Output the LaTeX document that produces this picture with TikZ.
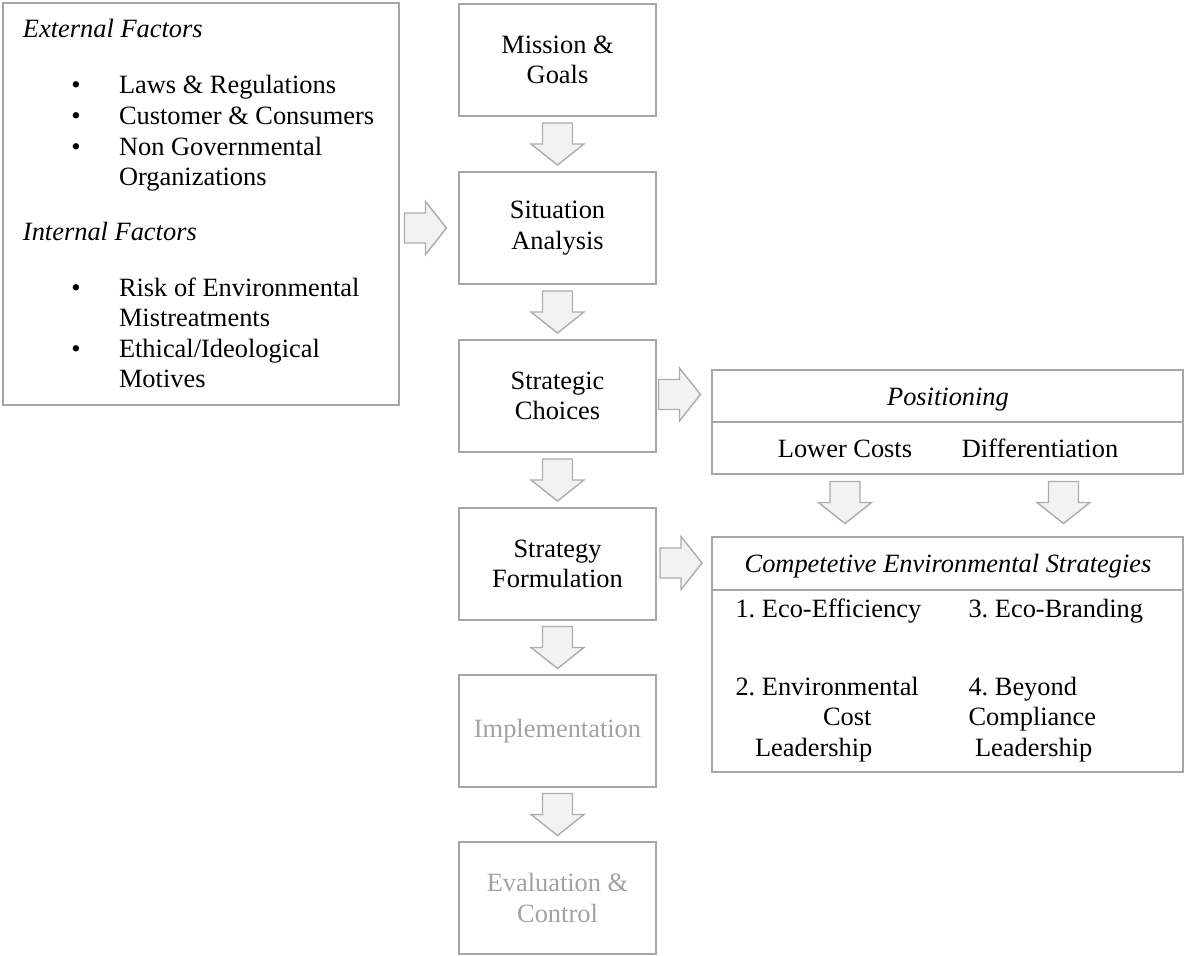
\documentclass[tikz,border=0pt]{standalone}
\usepackage{fontspec}
\setmainfont{Liberation Serif}
\usetikzlibrary{calc}

\definecolor{framegray}{RGB}{166,166,166}
\definecolor{arrowfill}{RGB}{242,242,242}
\definecolor{arrowline}{RGB}{172,172,172}
\definecolor{dimtext}{RGB}{162,162,162}

\begin{document}
\frenchspacing
\begin{tikzpicture}[x=1pt, y=-1pt,
  every node/.style={font=\fontsize{26.4}{30.5}\selectfont, inner sep=0pt, outer sep=0pt},
  frame/.style={draw=framegray, line width=1.7pt, rectangle},
  stage/.style={frame, minimum width=197pt, minimum height=112pt, align=center},
  dimstage/.style={stage, text=dimtext},
  label/.style={anchor=base west},
  clabel/.style={anchor=base},
  blockarrow/.style={draw=arrowline, fill=arrowfill, line width=1.4pt, line join=miter},
  dnarrow/.pic={\path[blockarrow] (-15,-21) -- (15,-21) -- (15,0) -- (26.5,0)
      -- (0,21) -- (-26.5,0) -- (-15,0) -- cycle;},
  rtarrow/.pic={\path[blockarrow] (-21,-15) -- (0,-15) -- (0,-26.5) -- (21,0)
      -- (0,26.5) -- (0,15) -- (-21,15) -- cycle;}
]
\useasboundingbox (0,0) rectangle (1184,956);

% --- factors box -------------------------------------------------------
\node[frame, minimum width=396pt, minimum height=402pt] (factors) at (201,204) {};
\node[label] (exthead) at (23,37) {\itshape External Factors};
\node[clabel] (b1) at (76,93) {•};
\node[label] (e1) at (119,93) {Laws \& Regulations};
\node[clabel] (b2) at (76,124) {•};
\node[label] (e2) at (119,124) {Customer \& Consumers};
\node[clabel] (b3) at (76,155) {•};
\node[label] (e3) at (119,155) {Non Governmental};
\node[label] (e3b) at (119,185.5) {Organizations};
\node[label] (inthead) at (23,240) {\itshape Internal Factors};
\node[clabel] (b4) at (76,296) {•};
\node[label] (i1) at (119,296) {Risk of Environmental};
\node[label] (i1b) at (119,326.5) {Mistreatments};
\node[clabel] (b5) at (76,357) {•};
\node[label] (i2) at (119,357) {Ethical/Ideological};
\node[label] (i2b) at (119,387.5) {Motives};

% --- process column ----------------------------------------------------
\node[stage] (mission)     at (557.5,60)  {Mission \&\\Goals};
\node[stage] (situation)   at (557.5,228) {Situation\\Analysis};
\node[stage] (strategic)   at (557.5,396) {Strategic\\Choices};
\node[stage] (formulation) at (557.5,564) {Strategy\\Formulation};
\node[dimstage] (implement) at (557.5,731) {Implementation};
\node[dimstage] (evaluation) at (557.5,898) {Evaluation \&\\Control};

\pic at ($(mission.south)!0.5!(situation.north)$) {dnarrow};
\pic at ($(situation.south)!0.5!(strategic.north)$) {dnarrow};
\pic at ($(strategic.south)!0.5!(formulation.north)$) {dnarrow};
\pic at ($(formulation.south)!0.5!(implement.north)$) {dnarrow};
\pic at ($(implement.south)!0.5!(evaluation.north)$) {dnarrow};

\pic at ($(situation.west)+(-33.5,0)$) {rtarrow};

% --- positioning -------------------------------------------------------
\node[frame, minimum width=471pt, minimum height=52pt] (poshead) at (947.5,396) {};
\node[frame, minimum width=471pt, minimum height=52pt] (posbody) at (947.5,448) {};
\node[clabel] (postitle) at (948,405) {\itshape Positioning};
\node[clabel] (lower) at (845,457) {Lower Costs};
\node[clabel] (diff) at (1040,457) {Differentiation};

\pic at ($(strategic.east)+(23.5,-1.5)$) {rtarrow};

\pic at ($(posbody.south)+(-102.5,28.5)$) {dnarrow};
\pic at ($(posbody.south)+(116,28.5)$) {dnarrow};

% --- competitive environmental strategies ------------------------------
\node[frame, minimum width=471pt, minimum height=53pt] (cesthead) at (947.5,563.5) {};
\node[frame, minimum width=471pt, minimum height=182pt] (cestbody) at (947.5,681) {};
\node[clabel] (cesttitle) at (948,572) {\itshape Competetive Environmental Strategies};

\pic at ($(formulation.east)+(25,-1)$) {rtarrow};

\node[label] (s1)  at (735.5,617) {1. Eco-Efficiency};
\node[label] (s3)  at (968.5,617) {3. Eco-Branding};
\node[label] (s2)  at (735.5,695) {2. Environmental};
\node[label] (s2b) at (823,725.5) {Cost};
\node[label] (s2c) at (755,756) {Leadership};
\node[label] (s4)  at (968.5,695) {4. Beyond};
\node[label] (s4b) at (968.5,725.5) {Compliance};
\node[label] (s4c) at (975,756) {Leadership};
\end{tikzpicture}
\end{document}
